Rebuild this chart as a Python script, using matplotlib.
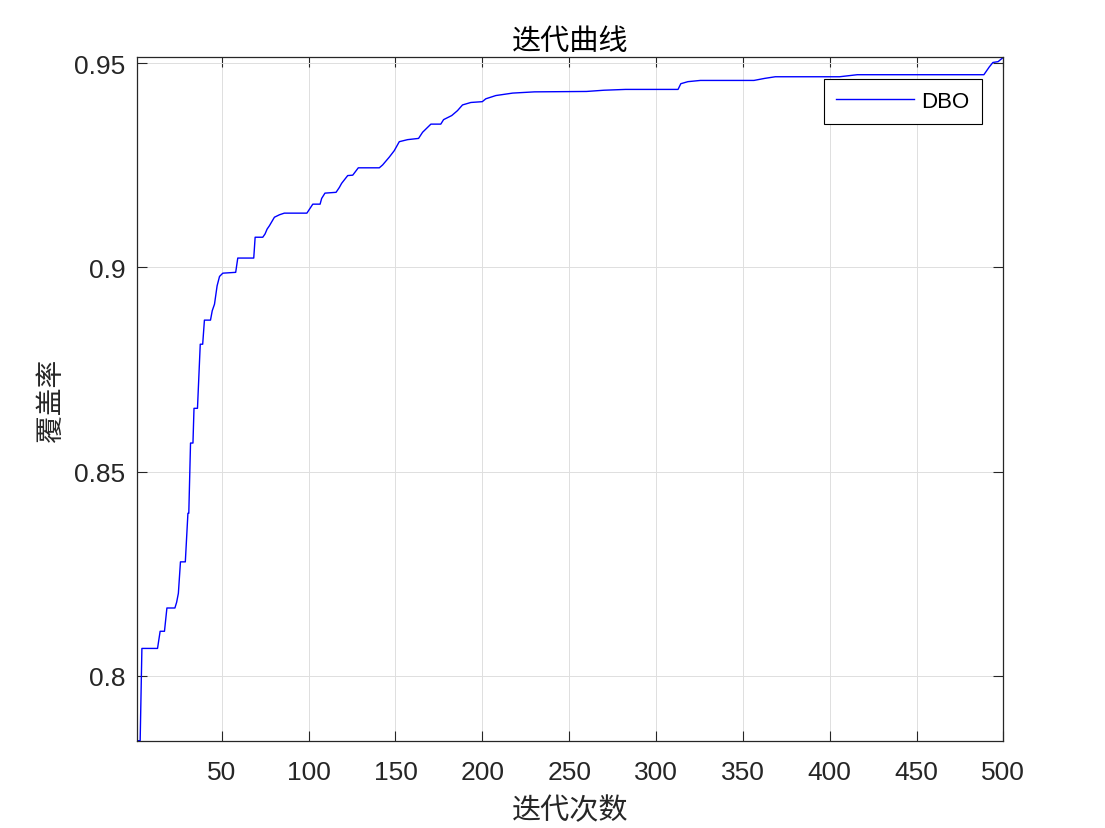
# DBO convergence curve (coverage rate vs iteration), MATLAB-style look

import numpy as np
import matplotlib.pyplot as plt

# change points of the curve (iteration, coverage)
iters = [1, 3, 4, 13, 14.5, 17, 18.4, 23, 24, 25, 26.2, 29, 30.5, 31, 32, 33.4,
         34, 36, 37.6, 39, 40, 43.5, 44.5, 45.8, 47.3, 48.7, 50.6, 58, 59.2, 68.4,
         69.2, 73.6, 74.9, 76.1, 77.4, 80.3, 83.2, 86, 99, 102.4, 106.6, 107.5,
         109.4, 115.8, 117.7, 119, 122.5, 125.4, 128.6, 140.7, 142.6, 146.4, 149.3,
         152.2, 157, 163.3, 165.6, 170.4, 176.1, 177.7, 182.4, 185.7, 188.6, 193.4,
         200, 202, 207.8, 217.5, 230, 260, 270, 282.5, 312.7, 314.3, 318.4, 325.6,
         356.4, 362.6, 368.7, 405.7, 415.9, 488.8, 491.9, 494, 497, 500]
coverage = [0.7841, 0.7841, 0.8067, 0.8067, 0.8109, 0.8109, 0.8166, 0.8166, 0.8180,
            0.8202, 0.8279, 0.8279, 0.8398, 0.8398, 0.8570, 0.8570, 0.8655, 0.8655,
            0.8812, 0.8812, 0.8871, 0.8871, 0.8894, 0.8910, 0.8955, 0.8978, 0.8986,
            0.8988, 0.9023, 0.9023, 0.9074, 0.9074, 0.9082, 0.9094, 0.9102, 0.9123,
            0.9129, 0.9133, 0.9133, 0.9155, 0.9155, 0.9169, 0.9182, 0.9184, 0.9196,
            0.9206, 0.9225, 0.9226, 0.9244, 0.9244, 0.9251, 0.9270, 0.9286, 0.9308,
            0.9313, 0.9316, 0.9331, 0.9351, 0.9351, 0.9362, 0.9372, 0.9384, 0.9398,
            0.9404, 0.9406, 0.9413, 0.9421, 0.9427, 0.9430, 0.9431, 0.9434, 0.9436,
            0.9436, 0.9450, 0.9455, 0.9458, 0.9458, 0.9463, 0.9467, 0.9467, 0.9472,
            0.9472, 0.9491, 0.9502, 0.9504, 0.95147]

xticks = [50, 100, 150, 200, 250, 300, 350, 400, 450, 500]
yticks = [0.8, 0.85, 0.9, 0.95]
ytick_labels = ['0.8', '0.85', '0.9', '0.95']

cjk = ['Noto Sans CJK SC', 'DejaVu Sans']
dark = '#262626'

fig = plt.figure(figsize=(11.05, 8.29), dpi=100)
ax = fig.add_axes([0.1237, 0.1053, 0.7843, 0.8244])

ax.plot(iters, coverage, color=(0, 0, 1), lw=1.0, label='DBO')

ax.set_xlim(1, 500)
ax.set_ylim(coverage[0], coverage[-1])
ax.set_xticks(xticks)
ax.set_yticks(yticks)
ax.set_yticklabels(ytick_labels)

ax.grid(True, color='#dedede', lw=0.7)
ax.set_axisbelow(True)
ax.tick_params(direction='in', length=7, width=0.8, colors=dark,
               top=True, right=True, labelsize=19)
ax.tick_params(axis='x', pad=14)
ax.tick_params(axis='y', pad=8)
for lbl in ax.get_xticklabels() + ax.get_yticklabels():
    lbl.set_family(['Liberation Sans', 'DejaVu Sans'])
for s in ax.spines.values():
    s.set_color(dark)
    s.set_linewidth(0.9)

ax.set_title('迭代曲线', family=cjk, fontsize=21, color='black', pad=6)
ax.set_xlabel('迭代次数', family=cjk, fontsize=21, color=dark, labelpad=8)
ax.set_ylabel('覆盖率', family=cjk, fontsize=20, color=dark, labelpad=6)

leg = ax.legend(loc='upper right', bbox_to_anchor=(0.9754, 0.9683),
                borderaxespad=0, fancybox=False, edgecolor='black', framealpha=1,
                prop={'family': ['Liberation Sans', 'DejaVu Sans'], 'size': 16},
                handlelength=3.5, borderpad=0.55, handletextpad=0.35)
leg.get_frame().set_linewidth(0.8)

fig.savefig('out.png', dpi=100)
